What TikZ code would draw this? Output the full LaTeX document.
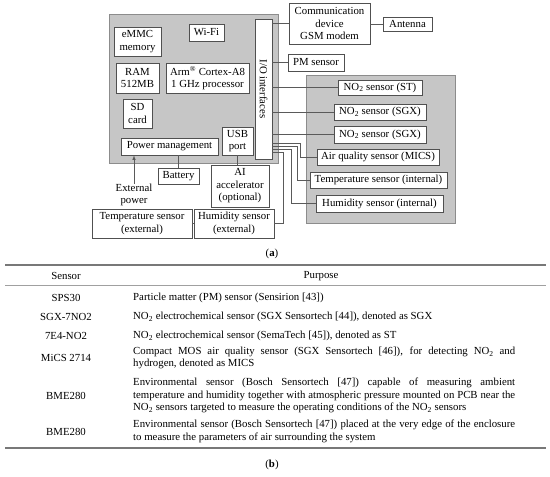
\documentclass[tikz,border=0pt]{standalone}
\usepackage{fontspec}
\setmainfont{Liberation Serif}
\usetikzlibrary{calc,positioning}

\definecolor{panelgray}{RGB}{198,198,198}
\definecolor{paneledge}{RGB}{140,140,140}
\definecolor{boxedge}{RGB}{80,80,80}
\definecolor{wiregray}{RGB}{90,90,90}
\definecolor{rulegray}{RGB}{120,120,120}

\tikzset{
  panel/.style={draw=paneledge, fill=panelgray, line width=0.8pt, inner sep=0pt},
  blk/.style={draw=boxedge, fill=white, line width=0.7pt, align=center, inner sep=0pt},
  wire/.style={draw=wiregray, line width=0.6pt},
  cell/.style={inner sep=0pt, align=center},
  purpose/.style={inner sep=0pt, anchor=west, text width=382pt, align=justify},
}

\begin{document}
\begin{tikzpicture}[x=1pt, y=-1pt, font=\fontsize{10.8}{12.5}\selectfont]
  \useasboundingbox (0,0) rectangle (550,477);

  % grey panels
  \node[panel, minimum width=169pt, minimum height=149pt] (board) at (193.5,88.5) {};
  \node[panel, minimum width=149pt, minimum height=148pt] (sensbox) at (380.5,149) {};

  % board parts
  \node[blk, minimum width=47pt, minimum height=29pt] (emmc) at (137.5,41.5) {eMMC\\memory};
  \node[blk, minimum width=35pt, minimum height=17pt] (wifi) at (206.5,32.5) {Wi-Fi};
  \node[blk, minimum width=43pt, minimum height=30pt] (ram) at (137.5,78) {RAM\\512MB};
  \node[blk, minimum width=83pt, minimum height=30pt] (cpu) at (207.5,78) {Arm\textsuperscript{®} Cortex-A8\\1 GHz processor};
  \node[blk, minimum width=29pt, minimum height=29pt] (sd) at (137.5,113.5) {SD\\card};
  \node[blk, minimum width=97pt, minimum height=17pt] (pwr) at (169.5,146.5) {Power management};
  \node[blk, minimum width=31pt, minimum height=28pt] (usb) at (237.5,141) {USB\\port};
  \node[blk, minimum width=17pt, minimum height=140pt] (io) at (263.5,89) {};
  \node[rotate=-90, inner sep=0pt] (iotext) at (io.center) {I/O interfaces};

  % outside parts
  \node[blk, minimum width=81pt, minimum height=41pt] (comm) at (329.5,23.5) {Communication\\device\\GSM modem};
  \node[blk, minimum width=49pt, minimum height=14pt] (ant) at (407.5,24) {Antenna};
  \node[blk, minimum width=56pt, minimum height=17pt] (pm) at (316,62.5) {PM sensor};
  \node[blk, minimum width=41pt, minimum height=16pt] (batt) at (178.5,176) {Battery};
  \node[blk, minimum width=58pt, minimum height=42pt] (ai) at (240,186) {AI\\accelerator\\(optional)};
  \node[cell] (extpow) at (134,195) {External\\power};
  \node[blk, minimum width=100pt, minimum height=29pt] (text) at (142,223.5) {Temperature sensor\\(external)};
  \node[blk, minimum width=80pt, minimum height=29pt] (hext) at (234,223.5) {Humidity sensor\\(external)};

  % sensors in the enclosure
  \node[blk, minimum width=84pt, minimum height=15pt] (nost) at (380,87.5) {NO\textsubscript{2} sensor (ST)};
  \node[blk, minimum width=92pt, minimum height=16pt] (nosgxa) at (380,112) {NO\textsubscript{2} sensor (SGX)};
  \node[blk, minimum width=92pt, minimum height=17pt] (nosgxb) at (380,134.5) {NO\textsubscript{2} sensor (SGX)};
  \node[blk, minimum width=122pt, minimum height=16pt] (mics) at (378,157) {Air quality sensor (MICS)};
  \node[blk, minimum width=137pt, minimum height=16pt] (tint) at (378.5,180) {Temperature sensor (internal)};
  \node[blk, minimum width=127pt, minimum height=17pt] (hint) at (379.5,203.5) {Humidity sensor (internal)};

  % connections
  \draw[wire] (io.east |- comm.west) -- (comm.west);
  \draw[wire] (comm.east |- ant.west) -- (ant.west);
  \draw[wire] (io.east |- pm.west) -- (pm.west);
  \draw[wire] (io.east |- nost.west) -- (nost.west);
  \draw[wire] (io.east |- nosgxa.west) -- (nosgxa.west);
  \draw[wire] (io.east |- nosgxb.west) -- (nosgxb.west);
  \draw[wire] (io.east |- 0,143) -- ++(28,0) |- (mics.west);
  \draw[wire] (io.east |- 0,146) -- ++(25,0) |- (tint.west);
  \draw[wire] (io.east |- 0,149) -- ++(19,0) |- (hint.west);
  \draw[wire] (io.east |- 0,152) -- ++(11,0) |- (hext.east);
  \draw[wire] (text.east) -- (hext.west);
  \draw[wire] (batt.north) -- (batt.north |- pwr.south);
  \draw[wire] (usb.south) -- (usb.south |- ai.north);
  \draw[wire, -latex] (extpow.north) -- (extpow.north |- pwr.south);

  \node[cell] (capa) at (272,254) {(\textbf{a})};

  % table
  \draw[draw=rulegray, line width=1.2pt] (5,265) -- (546,265);
  \draw[draw=rulegray!70, line width=0.7pt] (5,285) -- (546,285);
  \draw[draw=rulegray, line width=1.2pt] (5,448) -- (546,448);

  \node[cell] (hsens) at (66,276) {Sensor};
  \node[cell] (hpurp) at (321,276) {Purpose};

  \node[cell] (s1) at (66,298) {SPS30};
  \node[purpose] (p1) at (133,298) {Particle matter (PM) sensor (Sensirion [43])};
  \node[cell] (s2) at (66,317) {SGX-7NO2};
  \node[purpose] (p2) at (133,317) {NO\textsubscript{2} electrochemical sensor (SGX Sensortech [44]), denoted as SGX};
  \node[cell] (s3) at (66,336) {7E4-NO2};
  \node[purpose] (p3) at (133,336) {NO\textsubscript{2} electrochemical sensor (SemaTech [45]), denoted as ST};
  \node[cell] (s4) at (66,358) {MiCS 2714};
  \node[purpose] (p4) at (133,358) {Compact MOS air quality sensor (SGX Sensortech [46]), for detecting NO\textsubscript{2} and\linebreak hydrogen, denoted as MICS};
  \node[cell] (s5) at (66,395.5) {BME280};
  \node[purpose] (p5) at (133,395.5) {Environmental sensor (Bosch Sensortech [47]) capable of measuring ambient\linebreak temperature and humidity together with atmospheric pressure mounted on PCB near the\linebreak NO\textsubscript{2} sensors targeted to measure the operating conditions of the NO\textsubscript{2} sensors};
  \node[cell] (s6) at (66,431.5) {BME280};
  \node[purpose] (p6) at (133,431.5) {Environmental sensor (Bosch Sensortech [47]) placed at the very edge of the enclosure\linebreak to measure the parameters of air surrounding the system};

  \node[cell] (capb) at (272,465) {(\textbf{b})};
\end{tikzpicture}
\end{document}
